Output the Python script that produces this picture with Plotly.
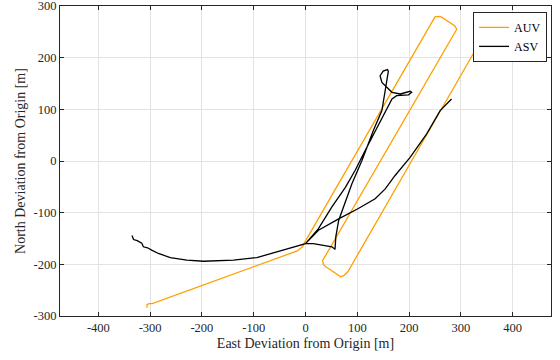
import plotly.graph_objects as go

# AUV track (East, North) in metres
auv_east = [-306, -306, -302, -296, -16, -6, -3, 245, 250, 256, 262, 288, 292, 33, 35, 40, 68, 74, 82, 335]
auv_north = [-284, -278, -276, -276, -174, -166, -160, 272, 279, 280, 279, 262, 255, -193, -201, -205, -224, -222, -214, 227]

# ASV track (East, North) in metres
asv_east = [-335, -332, -325, -316, -313, -305, -296, -284, -261, -229, -197, -139, -94, -55, -17, -7, 0,
            25, 51, 77, 96, 115, 135, 154, 167, 176, 199, 205, 202, 183, 167, 147.5, 144, 150, 158, 160,
            158, 155.8, 150.6, 147.5, 131, 109, 89.6, 73, 64, 58.5, 57, 51, 15, 0,
            25, 64, 102, 134.5, 154, 173, 202, 234, 260, 282]
asv_north = [-144, -152, -154, -159, -166, -168, -173, -179, -187, -192, -194, -192, -187, -176, -166, -163, -160,
             -131, -89, -51, -18, 20, 59, 97.5, 120, 126.4, 128, 133, 135, 129.7, 133, 152, 165, 174, 177, 174,
             162, 142.5, 117, 97.5, 59, 1, -44, -89, -115, -147, -171, -166, -160, -160,
             -134, -112, -92, -73, -54, -28, 7, 52.5, 97.5, 120]

x_ticks = [-400, -300, -200, -100, 0, 100, 200, 300, 400]
x_labels = ["-400", "-300", "-200", "-100", "0", "100", "200", "300", "400"]
y_ticks = [-300, -200, -100, 0, 100, 200, 300]
y_labels = ["-300", "-200", "-100", "0", "100", "200", "300"]

FONT = "Liberation Serif"
AX = "#262626"

fig = go.Figure()
fig.add_trace(go.Scatter(x=auv_east, y=auv_north, mode="lines", name="AUV",
                         line=dict(color="rgb(255,160,0)", width=1.3)))
fig.add_trace(go.Scatter(x=asv_east, y=asv_north, mode="lines", name="ASV",
                         line=dict(color="black", width=1.3)))

axis_common = dict(showgrid=True, gridcolor="#e3e3e3", gridwidth=1, zeroline=False,
                   showline=True, linecolor=AX, linewidth=1, mirror="ticks",
                   ticks="inside", ticklen=4, tickcolor=AX, ticklabeloverflow="allow",
                   automargin=False,
                   tickfont=dict(family=FONT, size=12.5, color=AX))

fig.update_xaxes(range=[-474, 474], tickvals=x_ticks, ticktext=x_labels,
                 title=dict(text="East Deviation from Origin [m]", font=dict(family=FONT, size=14, color=AX),
                            standoff=4),
                 **axis_common)
fig.update_yaxes(range=[-300, 300], tickvals=y_ticks, ticktext=y_labels,
                 title=dict(text="North Deviation from Origin [m]", font=dict(family=FONT, size=14, color=AX),
                            standoff=4),
                 **axis_common)

fig.update_layout(
    width=560, height=360,
    margin=dict(l=60, r=9, t=6, b=44, autoexpand=False),
    plot_bgcolor="white", paper_bgcolor="white",
    showlegend=True,
    legend=dict(x=0.992, y=0.981, xanchor="right", yanchor="top",
                bgcolor="white", bordercolor=AX, borderwidth=1,
                font=dict(family=FONT, size=12, color="black"),
                itemwidth=30, tracegroupgap=0),
)

fig.write_html("out.html")
